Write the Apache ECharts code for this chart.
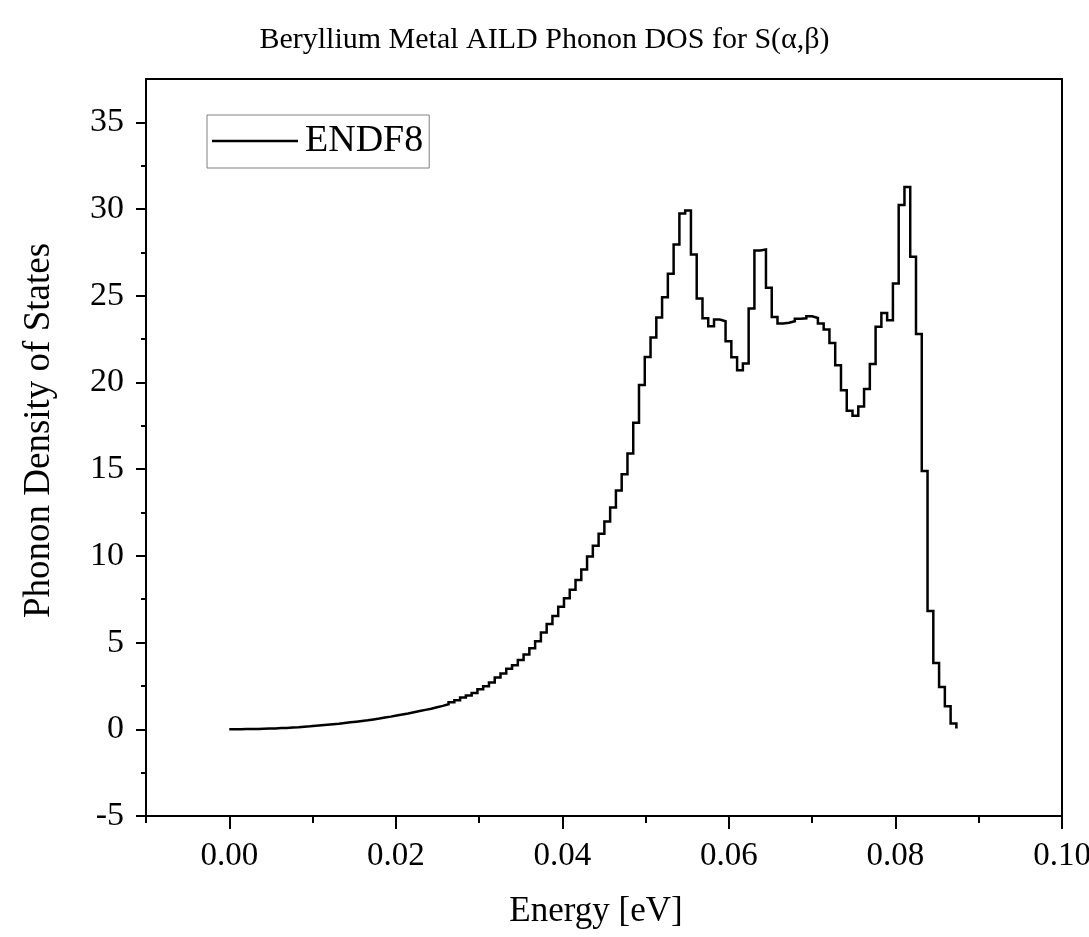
<!DOCTYPE html>
<html>
<head>
<meta charset="utf-8">
<script src="https://cdn.jsdelivr.net/npm/echarts@6/dist/echarts.min.js"></script>
<style>
  html, body { margin: 0; padding: 0; background: #ffffff; }
  #chart { width: 1089px; height: 937px; }
</style>
</head>
<body>
<div id="chart"></div>
<script>
// Energy grid spacing of the phonon DOS table (eV); point i sits at i * binWidth
const binWidth = 0.000693;

// Phonon density of states per energy bin (ENDF/B-VIII.0 Be metal)
const dosValues = [
  0.00, 0.00, 0.01, 0.01, 0.02, 0.03, 0.04, 0.05, 0.07, 0.08,
  0.10, 0.12, 0.15, 0.17, 0.20, 0.23, 0.26, 0.29, 0.32, 0.36,
  0.40, 0.44, 0.48, 0.52, 0.57, 0.62, 0.68, 0.73, 0.79, 0.85,
  0.91, 0.98, 1.05, 1.12, 1.19, 1.27, 1.35, 1.44, 1.56, 1.68,
  1.83, 1.95, 2.10, 2.31, 2.48, 2.70, 2.98, 3.22, 3.49, 3.70,
  3.99, 4.31, 4.68, 5.08, 5.58, 6.07, 6.53, 7.07, 7.55, 8.05,
  8.61, 9.22, 9.96, 10.59, 11.27, 11.98, 12.79, 13.77, 14.71, 15.91,
  17.68, 19.85, 21.47, 22.59, 23.74, 24.92, 26.27, 27.96, 29.75, 29.92,
  27.38, 24.84, 23.70, 23.24, 23.63, 23.53, 22.38, 21.45, 20.70, 21.09,
  24.26, 27.61, 27.67, 25.46, 23.78, 23.40, 23.44, 23.53, 23.67, 23.70,
  23.82, 23.72, 23.40, 23.05, 22.28, 20.99, 19.55, 18.37, 18.08, 18.62,
  19.62, 21.07, 23.21, 24.01, 23.59, 25.71, 30.23, 31.27, 27.25, 22.80,
  14.90, 6.82, 3.83, 2.44, 1.33, 0.33, 0.05
];

const seriesName = 'ENDF8';

// Axis ticks and labels
const xMajorTicks = [0.00, 0.02, 0.04, 0.06, 0.08, 0.10];
const xMinorStep = 0.01;
const yMajorTicks = [-5, 0, 5, 10, 15, 20, 25, 30, 35];
const yMinorTicks = [-2.5, 2.5, 7.5, 12.5, 17.5, 22.5, 27.5, 32.5];

const xRange = [-0.01, 0.10];
const yRange = [-5, 37.5];

// Plot frame (px)
const frame = { left: 146, right: 27, top: 79, bottom: 121 };
const frameHeight = 937 - frame.top - frame.bottom;

const serif = "'Liberation Serif', 'Times New Roman', serif";
const ink = '#000000';

const points = dosValues.map((v, i) => [i * binWidth, v]);

const chart = echarts.init(document.getElementById('chart'), null, { renderer: 'canvas' });

const hiddenLine = { show: false };

chart.setOption({
  animation: false,
  backgroundColor: '#ffffff',
  title: {
    text: 'Beryllium Metal AILD Phonon DOS for S(α,β)',
    left: 'center',
    top: 20,
    textStyle: { fontFamily: serif, fontSize: 30, fontWeight: 'normal', color: ink }
  },
  legend: {
    left: 207,
    top: 115,
    orient: 'vertical',
    data: [{ name: seriesName, icon: 'rect' }],
    itemWidth: 86,
    itemHeight: 2.5,
    itemGap: 0,
    padding: [6, 6, 7, 5],
    borderColor: '#808080',
    borderWidth: 1,
    textStyle: { fontFamily: serif, fontSize: 38, color: ink, padding: [0, 0, 0, 2], lineHeight: 40 }
  },
  grid: {
    left: frame.left,
    right: frame.right,
    top: frame.top,
    bottom: frame.bottom,
    outerBoundsMode: 'none',
    containLabel: false,
    show: true,
    borderColor: ink,
    borderWidth: 2,
    backgroundColor: 'transparent'
  },
  xAxis: [
    {
      // energy axis: labels at the major values, short ticks every 0.01 eV
      type: 'value',
      position: 'bottom',
      min: xRange[0],
      max: xRange[1],
      interval: xMinorStep,
      name: 'Energy [eV]',
      nameLocation: 'middle',
      nameGap: 78,
      nameTextStyle: { fontFamily: serif, fontSize: 35, color: ink, padding: [0, 16, 0, 0] },
      axisLine: { show: true, onZero: false, lineStyle: { color: ink, width: 2 } },
      axisTick: { show: true, inside: false, length: 7, lineStyle: { color: ink, width: 2 } },
      axisLabel: {
        customValues: xMajorTicks,
        margin: 24,
        fontFamily: serif,
        fontSize: 33,
        color: ink,
        formatter: v => v.toFixed(2)
      },
      splitLine: hiddenLine
    },
    {
      // long major ticks: a top-side axis moved down onto the bottom frame edge,
      // its "inside" ticks then point down, out of the plot
      type: 'value',
      position: 'top',
      offset: -frameHeight,
      min: xRange[0],
      max: xRange[1],
      axisLine: { show: false, onZero: false },
      axisTick: { show: true, inside: true, length: 13, customValues: xMajorTicks, lineStyle: { color: ink, width: 2 } },
      axisLabel: { show: false },
      splitLine: hiddenLine
    }
  ],
  yAxis: [
    {
      type: 'value',
      position: 'left',
      min: yRange[0],
      max: yRange[1],
      name: 'Phonon Density of States',
      nameLocation: 'middle',
      nameGap: 88,
      nameTextStyle: { fontFamily: serif, fontSize: 37, color: ink, padding: [0, 0, 0, 34] },
      axisLine: { show: true, onZero: false, lineStyle: { color: ink, width: 2 } },
      axisTick: { show: true, inside: false, length: 10, customValues: yMajorTicks, lineStyle: { color: ink, width: 2 } },
      axisLabel: {
        customValues: yMajorTicks,
        margin: 22,
        fontFamily: serif,
        fontSize: 34,
        color: ink
      },
      splitLine: hiddenLine
    },
    {
      // short minor ticks between the labelled values
      type: 'value',
      position: 'left',
      min: yRange[0],
      max: yRange[1],
      axisLine: { show: false, onZero: false },
      axisTick: { show: true, inside: false, length: 5, customValues: yMinorTicks, lineStyle: { color: ink, width: 2 } },
      axisLabel: { show: false },
      splitLine: hiddenLine
    }
  ],
  series: [
    {
      name: seriesName,
      type: 'line',
      xAxisIndex: 0,
      yAxisIndex: 0,
      step: 'end',
      data: points,
      showSymbol: false,
      symbol: 'none',
      color: ink,
      itemStyle: { color: ink },
      lineStyle: { color: ink, width: 2.5, join: 'miter' }
    }
  ]
});
</script>
</body>
</html>
